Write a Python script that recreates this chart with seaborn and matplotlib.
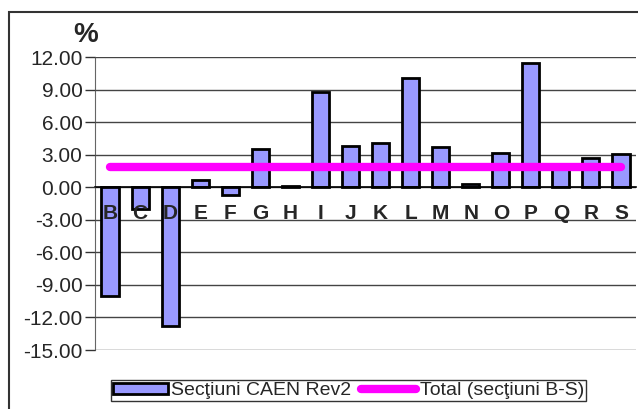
import numpy as np
import matplotlib
matplotlib.use('Agg')
import matplotlib.pyplot as plt
import seaborn as sns
from matplotlib.patches import Rectangle

# data
sectiuni = ['B', 'C', 'D', 'E', 'F', 'G', 'H', 'I', 'J', 'K', 'L', 'M',
            'N', 'O', 'P', 'Q', 'R', 'S']
valori = [-10.0, -2.0, -12.8, 0.7, -0.7, 3.5, 0.1, 8.8, 3.8, 4.1, 10.1, 3.7,
          0.3, 3.2, 11.5, 2.2, 2.7, 3.1]
total = 1.9
y_ticks = [12, 9, 6, 3, 0, -3, -6, -9, -12, -15]

sns.set_style('white')
plt.rcParams['font.family'] = ['Liberation Sans', 'DejaVu Sans']

fig = plt.figure(figsize=(6.38, 4.09), dpi=100)
ax = fig.add_axes([95 / 638, 1 - 350 / 409, 541 / 638, (350 - 57.3) / 409])

sns.barplot(x=sectiuni, y=valori, color='#9999FF', edgecolor='black',
            linewidth=2, width=0.57, saturation=1, ax=ax, zorder=2)
bar_handle = ax.patches[0]
pos = np.arange(len(sectiuni))
line, = ax.plot(pos, [total] * len(sectiuni), color='#FF00FF', lw=6,
                solid_capstyle='round', zorder=3)
if ax.get_legend() is not None:
    ax.get_legend().remove()

ax.set_xlim(-0.5, len(sectiuni) - 0.5)
ax.set_ylim(-15, 12)
ax.set_yticks(y_ticks)
ax.set_yticklabels([f'{v:.2f}' for v in y_ticks], fontsize=15)
# gridlines behind the bars, axis (labels) above them
ax.grid(False)
ax.set_axisbelow(False)
for v in y_ticks:
    ax.axhline(v, color='#444444', lw=1, zorder=0.5)

# x axis sits on zero
ax.spines['bottom'].set_position(('data', 0))
ax.spines['bottom'].set_color('black')
ax.spines['bottom'].set_linewidth(1.2)
ax.spines['left'].set_color('#666666')
for s in ['top', 'right']:
    ax.spines[s].set_visible(False)
ax.set_xticks(pos)
ax.set_xticklabels(sectiuni, fontsize=15, fontweight='bold')
ax.tick_params(axis='x', which='major', length=0, pad=12)
ax.set_xticks(np.arange(len(sectiuni) + 1) - 0.5, minor=True)
ax.tick_params(axis='x', which='minor', length=5, direction='out',
               color='#333333', width=1)
ax.tick_params(axis='y', length=7, direction='out', color='#333333', width=1,
               left=True, pad=2)
ax.set_xlabel('')
ax.set_ylabel('')

fig.text(86 / 638, 1 - 35 / 409, '%', fontsize=20, fontweight='bold',
         ha='center', va='center')

leg = fig.legend(handles=[bar_handle, line],
                 labels=['Secţiuni CAEN Rev2', 'Total (secţiuni B-S)'],
                 loc='center', bbox_to_anchor=(348.5 / 638, 1 - 390.5 / 409),
                 ncol=2, fontsize=14, frameon=True, fancybox=False,
                 borderpad=0.1, handletextpad=0.2, columnspacing=0.5,
                 handlelength=2.8, handleheight=0.5, borderaxespad=0)
leg.get_frame().set_edgecolor('black')
leg.get_frame().set_linewidth(1)

# outer chart border (only top and left visible)
fig.patches.append(Rectangle((9 / 638, -0.1), 1.2, 1 - 12 / 409 + 0.1,
                             transform=fig.transFigure, fill=False,
                             edgecolor='#333333', lw=1.5))

fig.savefig('out.png', dpi=100)
